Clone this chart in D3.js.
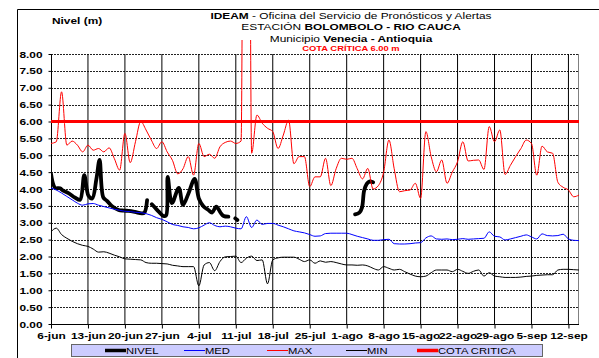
<!DOCTYPE html>
<html>
<head>
<meta charset="utf-8">
<script src="https://cdn.jsdelivr.net/npm/d3@7"></script>
<style>
body { margin: 0; background: #fff; }
svg { display: block; font-family: "Liberation Sans", Arial, sans-serif; }
</style>
</head>
<body>
<div id="chart"></div>
<script>
// fechas del eje (dd-mmm), una por semana
var tickLabels = ['6-jun', '13-jun', '20-jun', '27-jun', '4-jul', '11-jul', '18-jul', '25-jul',
    '1-ago', '8-ago', '15-ago', '22-ago', '29-ago', '5-sep', '12-sep'];
var lastDay = '14-sep';
var yTicks = [0, 0.5, 1, 1.5, 2, 2.5, 3, 3.5, 4, 4.5, 5, 5.5, 6, 6.5, 7, 7.5, 8];
var cotaCritica = 6.0;

// series diarias desde el 6-jun
var medValues = [4.03, 3.97, 3.88, 3.78, 3.68, 3.58, 3.52, 3.56, 3.57, 3.52,
    3.48, 3.44, 3.40, 3.37, 3.34, 3.33, 3.31, 3.30, 3.27, 3.22,
    3.15, 3.10, 3.03, 2.95, 2.92, 2.88, 2.86, 2.82, 2.85, 2.93,
    3.00, 2.92, 2.88, 2.90, 2.88, 2.84, 2.82, 3.18, 2.86, 3.08,
    2.95, 2.98, 2.98, 2.93, 2.88, 2.82, 2.76, 2.73, 2.70, 2.65,
    2.60, 2.61, 2.68, 2.69, 2.69, 2.69, 2.69, 2.65, 2.60, 2.56,
    2.52, 2.48, 2.48, 2.50, 2.51, 2.38, 2.37, 2.37, 2.38, 2.40,
    2.41, 2.55, 2.61, 2.52, 2.51, 2.52, 2.50, 2.51, 2.53, 2.51,
    2.52, 2.53, 2.54, 2.73, 2.60, 2.58, 2.49, 2.52, 2.56, 2.60,
    2.64, 2.58, 2.52, 2.67, 2.62, 2.61, 2.62, 2.66, 2.52, 2.48,
    2.47];
var maxValues = [5.35, 5.40, 6.88, 5.30, 5.42, 5.30, 5.10, 5.30, 5.15, 5.20,
    5.10, 5.22, 4.90, 4.56, 5.65, 4.78, 5.40, 6.00, 5.75, 5.45,
    5.20, 5.40, 5.10, 4.85, 4.45, 4.60, 4.96, 4.41, 5.35, 4.96,
    5.03, 4.91, 5.25, 5.38, 5.42, 5.35, 5.42, 40.0, 5.06, 6.19,
    5.95, 5.80, 5.70, 5.20, 5.60, 6.04, 4.75, 4.96, 4.96, 4.07,
    4.36, 4.36, 4.91, 4.10, 4.60, 4.91, 4.88, 4.91, 4.60, 4.30,
    4.61, 4.00, 4.10, 4.50, 5.45, 4.60, 3.92, 3.95, 3.97, 4.17,
    3.72, 5.70, 4.96, 4.51, 4.86, 4.17, 4.50, 4.81, 5.40, 4.83,
    4.85, 4.86, 4.58, 5.85, 5.40, 5.75, 4.43, 4.70, 4.96, 5.20,
    5.45, 5.35, 4.41, 5.27, 5.10, 5.06, 4.20, 4.05, 3.97, 3.77,
    3.82];
var minValues = [2.73, 2.84, 2.65, 2.54, 2.45, 2.38, 2.33, 2.30, 2.22, 2.13,
    2.14, 2.10, 2.04, 1.99, 1.93, 1.92, 1.91, 1.90, 1.82, 1.80,
    1.80, 1.79, 1.78, 1.74, 1.72, 1.70, 1.70, 1.70, 1.13, 1.75,
    1.82, 1.58, 1.85, 1.99, 2.00, 2.01, 1.82, 1.95, 2.01, 1.88,
    1.90, 1.19, 1.90, 1.96, 1.98, 1.98, 1.98, 1.92, 1.85, 1.90,
    1.80, 1.87, 1.83, 1.85, 1.82, 1.78, 1.75, 1.75, 1.74, 1.75,
    1.72, 1.65, 1.60, 1.70, 1.65, 1.60, 1.62, 1.55, 1.48, 1.42,
    1.40, 1.42, 1.52, 1.60, 1.60, 1.60, 1.55, 1.62, 1.56, 1.50,
    1.56, 1.60, 1.42, 1.52, 1.42, 1.40, 1.38, 1.38, 1.38, 1.39,
    1.41, 1.42, 1.44, 1.45, 1.46, 1.46, 1.60, 1.62, 1.62, 1.61,
    1.60];
// nivel observado: [dias desde 6-jun, nivel], null = sin dato
var nivelPoints = [[0, 4.45], [0.4, 4.15], [0.8, 4.03], [1.7, 4.02], [2.3, 3.95], [3.3, 3.88],
    [4.6, 3.74], [5.5, 3.68], [6.3, 4.41], [7.1, 3.80], [7.8, 3.72], [8.6, 4.30], [9.2, 4.86],
    [9.9, 3.75], [10.6, 3.65], [11.5, 3.50], [12.8, 3.38], [13.8, 3.36], [14.7, 3.35],
    [15.9, 3.32], [17.2, 3.28], [17.7, 3.30], [18.2, 3.67], [18.5, null], [19.1, 3.55],
    [19.8, 3.43], [20.4, 3.33], [21.3, 3.20], [21.8, 3.22], [22.1, 4.36], [22.9, 3.58],
    [24.2, 4.03], [25.0, 3.53], [26.0, 3.85], [27.2, 4.30], [28.0, 3.72], [28.9, 3.48],
    [29.8, 3.38], [30.5, 3.30], [31.3, 3.48], [32.1, 3.30], [32.7, 3.20], [33.6, 3.18],
    [34.2, null], [34.9, 3.13], [35.3, 3.08], [35.6, null],
    [57.6, 3.25], [58.4, 3.30], [58.9, 3.45], [59.3, 3.95], [59.8, 4.15], [60.3, 4.22], [61.0, 4.20]];

var legendNames = ['NIVEL', 'MED', 'MAX', 'MIN', 'COTA CRITICA'];

var width = 599, height = 358;
var plot = { left: 51, right: 579, top: 54, bottom: 324 };
var stretch = 1.25; // el texto del original sale ensanchado

var meses = { jun: 5, jul: 6, ago: 7, sep: 8 };
function parseFecha(s) {
    var p = s.split('-');
    return new Date(Date.UTC(2011, meses[p[1]], +p[0]));
}
var day0 = parseFecha(tickLabels[0]);
function dayDate(n) {
    return new Date(day0.getTime() + n * 86400000);
}

var x = d3.scaleUtc()
    .domain([day0, parseFecha(lastDay)])
    .range([plot.left, plot.right]);
var y = d3.scaleLinear()
    .domain([0, 8])
    .range([plot.bottom, plot.top]);

var svg = d3.select('#chart').append('svg')
    .attr('width', width)
    .attr('height', height);

svg.append('rect').attr('width', width).attr('height', height).attr('fill', '#fff');

// marco exterior
svg.append('path')
    .attr('d', 'M17.5,' + height + 'V9.5H' + width)
    .attr('fill', 'none')
    .attr('stroke', '#000')
    .attr('stroke-width', 1);

function label(parent, px, py, size, weight, anchor) {
    return parent.append('text')
        .attr('transform', 'translate(' + px + ',' + py + ') scale(' + stretch + ',1)')
        .attr('text-anchor', anchor || 'start')
        .style('font-size', size + 'px')
        .style('font-weight', weight || 'normal');
}

// titulos
label(svg, 52, 23.5, 9.5, 'bold').text('Nivel (m)');
var t1 = label(svg, 351, 18.5, 9.5, 'normal', 'middle');
t1.append('tspan').style('font-weight', 'bold').text('IDEAM');
t1.append('tspan').text(' - Oficina  del Servicio de Pronósticos  y Alertas');
var t2 = label(svg, 351, 29.5, 9.5, 'normal', 'middle');
t2.append('tspan').text('ESTACIÓN  ');
t2.append('tspan').style('font-weight', 'bold').text('BOLOMBOLO - RIO CAUCA');
var t3 = label(svg, 351, 42, 9.5, 'normal', 'middle');
t3.append('tspan').text('Municipio ');
t3.append('tspan').style('font-weight', 'bold').text('Venecia - Antioquia');
label(svg, 351, 51, 7.5, 'bold', 'middle').attr('fill', '#ff0000').text('COTA CRÍTICA 6.00 m');

// rejilla horizontal punteada
svg.append('g').selectAll('line')
    .data(yTicks.filter(function (d) { return d > 0; }))
    .enter().append('line')
    .attr('x1', plot.left).attr('x2', plot.right)
    .attr('y1', function (d) { return Math.round(y(d)) + 0.5; })
    .attr('y2', function (d) { return Math.round(y(d)) + 0.5; })
    .attr('stroke', '#222')
    .attr('stroke-dasharray', '2,1');

var tickDates = tickLabels.map(parseFecha);

// rejilla vertical
svg.append('g').selectAll('line')
    .data(tickDates.slice(1))
    .enter().append('line')
    .attr('x1', function (d) { return x(d); })
    .attr('x2', function (d) { return x(d); })
    .attr('y1', plot.top).attr('y2', plot.bottom)
    .attr('stroke', '#000');

svg.append('line')
    .attr('x1', plot.right - 0.5).attr('x2', plot.right - 0.5)
    .attr('y1', plot.top).attr('y2', plot.bottom)
    .attr('stroke', '#808080');

// ejes
var xAxis = svg.append('g')
    .attr('transform', 'translate(0,' + (plot.bottom + 0.5) + ')')
    .call(d3.axisBottom(x)
        .tickValues(tickDates)
        .tickSize(4)
        .tickPadding(4)
        .tickFormat(function (d, i) { return tickLabels[i]; }));
xAxis.select('.domain').remove();
xAxis.selectAll('line').attr('stroke', '#000');
xAxis.selectAll('text')
    .attr('transform', 'scale(' + stretch + ',1)')
    .style('font-size', '9.5px')
    .style('font-weight', 'bold')
    .style('font-family', '"Liberation Sans", Arial, sans-serif')
    .attr('fill', '#000');

var yAxis = svg.append('g')
    .attr('transform', 'translate(' + (plot.left + 0.5) + ',0)')
    .call(d3.axisLeft(y)
        .tickValues(yTicks)
        .tickSize(3)
        .tickFormat(d3.format('.2f')));
yAxis.select('.domain').remove();
yAxis.selectAll('line').attr('stroke', '#000');
yAxis.selectAll('text')
    .attr('x', -9 / stretch)
    .attr('transform', 'scale(' + stretch + ',1)')
    .style('font-size', '9.5px')
    .style('font-weight', 'bold')
    .style('font-family', '"Liberation Sans", Arial, sans-serif')
    .attr('fill', '#000');

svg.append('line')
    .attr('x1', plot.left + 0.5).attr('x2', plot.left + 0.5)
    .attr('y1', plot.top).attr('y2', plot.bottom + 1)
    .attr('stroke', '#000');
svg.append('line')
    .attr('x1', plot.left).attr('x2', plot.right)
    .attr('y1', plot.bottom + 0.5).attr('y2', plot.bottom + 0.5)
    .attr('stroke', '#000');

// series
svg.append('clipPath').attr('id', 'clip')
    .append('rect')
    .attr('x', plot.left).attr('y', 40)
    .attr('width', plot.right - plot.left)
    .attr('height', plot.bottom - 40);

var series = svg.append('g').attr('clip-path', 'url(#clip)');

// suavizado sin sobrepaso, como la curva suavizada de Excel
var dailyLine = d3.line()
    .x(function (d, i) { return x(dayDate(i)); })
    .y(function (d) { return y(d); })
    .curve(d3.curveMonotoneX);

var nivelLine = d3.line()
    .defined(function (d) { return d[1] != null; })
    .x(function (d) { return x(dayDate(d[0])); })
    .y(function (d) { return y(d[1]); })
    .curve(d3.curveCatmullRom);

series.append('path')
    .attr('d', nivelLine(nivelPoints))
    .attr('fill', 'none')
    .attr('stroke', '#000')
    .attr('stroke-width', 3.8)
    .attr('stroke-linejoin', 'round')
    .attr('stroke-linecap', 'round');

series.append('path')
    .attr('d', dailyLine(medValues))
    .attr('fill', 'none')
    .attr('stroke', '#0000ff')
    .attr('stroke-width', 1);

series.append('path')
    .attr('d', dailyLine(maxValues))
    .attr('fill', 'none')
    .attr('stroke', '#ff0000')
    .attr('stroke-width', 1);

series.append('path')
    .attr('d', dailyLine(minValues))
    .attr('fill', 'none')
    .attr('stroke', '#000')
    .attr('stroke-width', 1);

series.append('line')
    .attr('x1', plot.left).attr('x2', plot.right)
    .attr('y1', y(cotaCritica)).attr('y2', y(cotaCritica))
    .attr('stroke', '#ff0000')
    .attr('stroke-width', 3);

// leyenda
var legendStyle = [
    { color: '#000', w: 3.5, x: 105 },
    { color: '#0000ff', w: 1, x: 184 },
    { color: '#ff0000', w: 1, x: 267 },
    { color: '#000', w: 1, x: 346 },
    { color: '#ff0000', w: 3.5, x: 417 }
];
var legend = svg.append('g');
legend.append('rect')
    .attr('x', 71.5).attr('y', 344.5)
    .attr('width', 471).attr('height', 12)
    .attr('fill', '#ccccff')
    .attr('stroke', '#666')
    .attr('stroke-width', 1);
legendNames.forEach(function (name, i) {
    var s = legendStyle[i];
    legend.append('line')
        .attr('x1', s.x).attr('x2', s.x + 21)
        .attr('y1', 350.5).attr('y2', 350.5)
        .attr('stroke', s.color)
        .attr('stroke-width', s.w);
    label(legend, s.x + 21, 354, 9, 'normal').text(name);
});
</script>
</body>
</html>
